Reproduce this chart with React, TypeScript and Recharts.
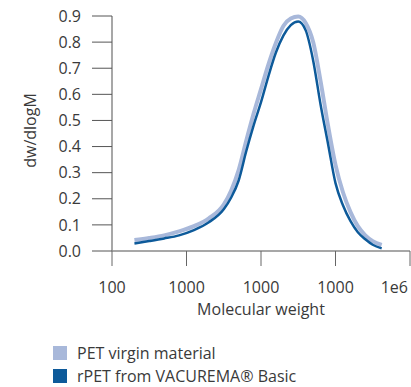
import React from 'react';
import { LineChart, Line, XAxis, YAxis, Legend } from 'recharts';

const molecularWeight = [200, 316, 501, 794, 1259, 1995, 3162, 3981, 5012, 6310, 7943, 10000, 12589, 15849, 19953, 25119, 31623, 39811, 50119, 63096, 79433, 100000, 125893, 158489, 199526, 251189, 316228, 416869];
const petVirgin = [0.042, 0.05, 0.06, 0.075, 0.095, 0.125, 0.178, 0.232, 0.31, 0.42, 0.525, 0.62, 0.715, 0.797, 0.862, 0.89, 0.898, 0.873, 0.8, 0.65, 0.48, 0.33, 0.225, 0.15, 0.095, 0.06, 0.038, 0.023];
const rpetVacurema = [0.029, 0.038, 0.048, 0.06, 0.08, 0.11, 0.16, 0.205, 0.27, 0.38, 0.48, 0.57, 0.67, 0.76, 0.825, 0.865, 0.879, 0.845, 0.73, 0.56, 0.41, 0.26, 0.175, 0.115, 0.072, 0.045, 0.024, 0.01];

const xTicks = [100, 1000, 10000, 100000, 1000000];
const xTickLabels = ['100', '1000', '1000', '1000', '1e6'];
const yTicks = [0, 0.1, 0.2, 0.3, 0.4, 0.5, 0.6, 0.7, 0.8, 0.9];

const seriesNames = ['PET virgin material', 'rPET from VACUREMA® Basic'];
const seriesColors = ['#a8b8da', '#0d5a9a'];

const data = molecularWeight.map((m, i) => ({ m, pet: petVirgin[i], rpet: rpetVacurema[i] }));

const FONT = '"Open Sans", sans-serif';

const XTick = (props: any) => {
  const { x, y, payload, index } = props;
  const last = index === xTicks.length - 1;
  return (
    <text x={last ? x - 2 : x} y={y} dy={25} textAnchor={last ? 'end' : 'middle'} fill="#3a3a3a" fontSize={16} fontFamily={FONT}>
      {xTickLabels[xTicks.indexOf(payload.value)]}
    </text>
  );
};

const LegendContent = () => (
  <div style={{ fontFamily: FONT, fontSize: 16, color: '#3a3a3a' }}>
    {seriesNames.map((n, i) => (
      <div key={n} style={{ display: 'flex', alignItems: 'center', height: 23 }}>
        <span style={{ display: 'inline-block', width: 14, height: 14, background: seriesColors[i], marginRight: 10 }} />
        <span>{n}</span>
      </div>
    ))}
  </div>
);

export default function App() {
  return (
    <div style={{ position: 'absolute', left: 0, top: 0, width: 411, height: 387, background: '#fff' }}>
      <LineChart width={411} height={387} data={data} margin={{ top: 16, right: 1, left: 0, bottom: 16 }}>
        <XAxis
          dataKey="m"
          type="number"
          scale="log"
          domain={[100, 1000000]}
          ticks={xTicks}
          interval={0}
          allowDataOverflow
          height={70}
          tickSize={15}
          tick={<XTick />}
          axisLine={{ stroke: '#8a8a8a', strokeWidth: 1.5 }}
          tickLine={{ stroke: '#666' }}
          label={{ value: 'Molecular weight', position: 'insideBottom', offset: 0, dy: -6, fill: '#3a3a3a', fontSize: 16, fontFamily: FONT }}
        />
        <YAxis
          type="number"
          domain={[0, 0.9]}
          ticks={yTicks}
          interval={0}
          width={112}
          tickSize={20}
          tickMargin={11}
          tickFormatter={(v: number) => v.toFixed(1)}
          tick={{ fill: '#3a3a3a', fontSize: 16, fontFamily: FONT }}
          axisLine={{ stroke: '#8a8a8a', strokeWidth: 1.5 }}
          tickLine={{ stroke: '#555' }}
          label={{ value: 'dw/dlogM', angle: -90, position: 'center', dx: -26, dy: -3, fill: '#3a3a3a', fontSize: 16, fontFamily: FONT }}
        />
        <Legend
          verticalAlign="bottom"
          height={50}
          content={<LegendContent />}
          wrapperStyle={{ position: 'absolute', top: 341, left: 53, width: 300, height: 50 }}
        />
        <Line type="monotone" dataKey="pet" name={seriesNames[0]} stroke={seriesColors[0]} strokeWidth={4} dot={false} isAnimationActive={false} />
        <Line type="monotone" dataKey="rpet" name={seriesNames[1]} stroke={seriesColors[1]} strokeWidth={2.5} dot={false} isAnimationActive={false} />
      </LineChart>
    </div>
  );
}
